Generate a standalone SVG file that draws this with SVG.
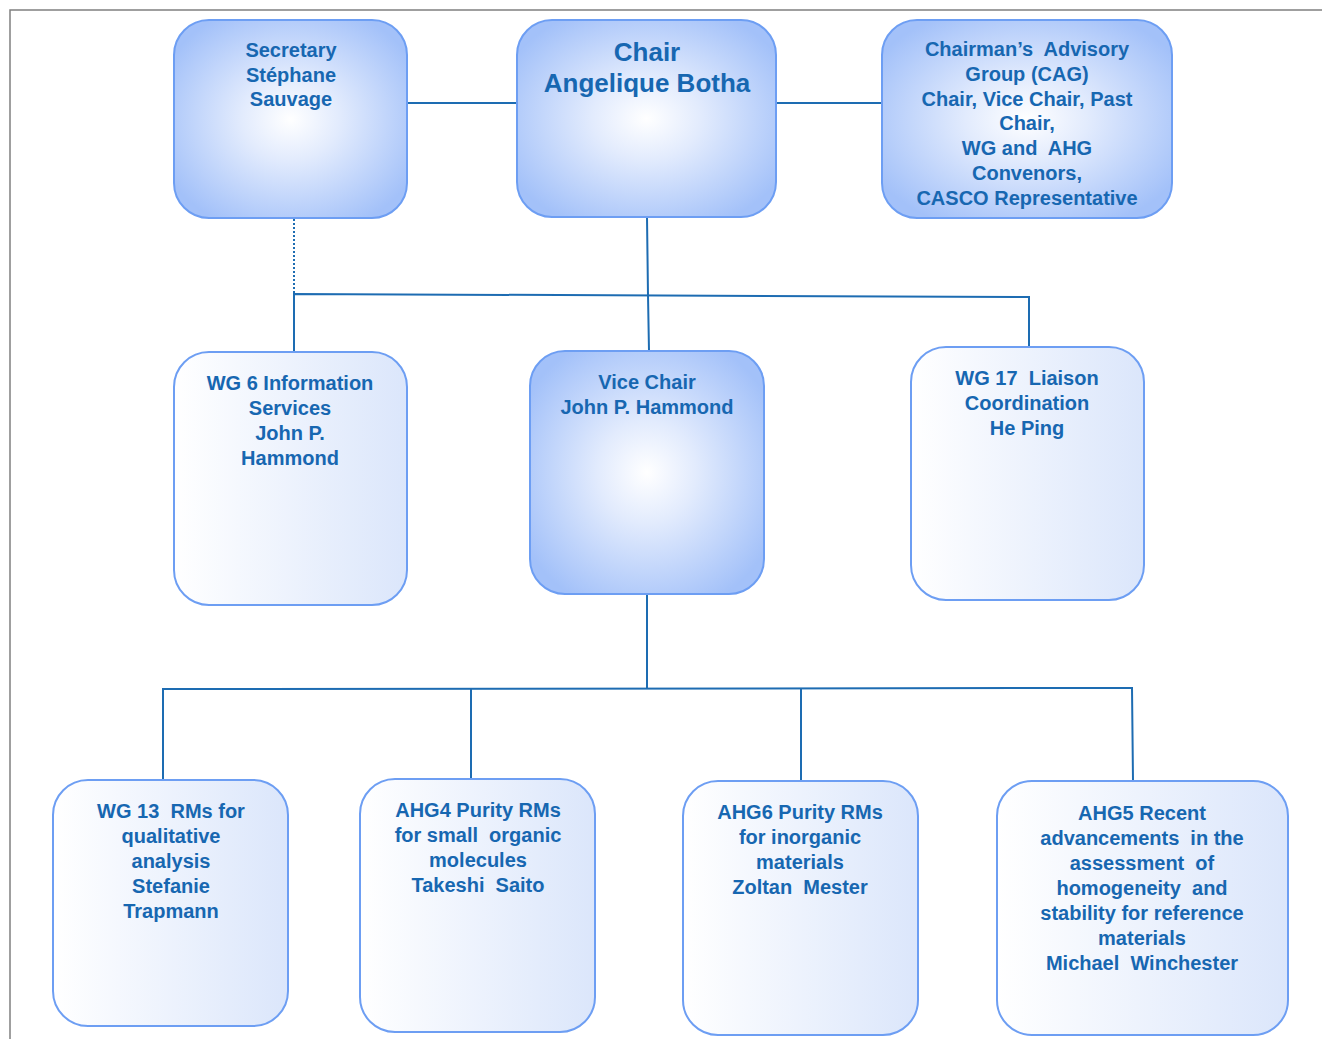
<svg xmlns="http://www.w3.org/2000/svg" width="1322" height="1039" viewBox="0 0 1322 1039">
<defs>
<radialGradient id="rg" cx="0.5" cy="0.5" r="0.6">
<stop offset="0" stop-color="#ffffff"/>
<stop offset="0.35" stop-color="#e2ebfd"/>
<stop offset="1" stop-color="#a3c1f9"/>
</radialGradient>
<linearGradient id="lg" x1="0" y1="0" x2="1" y2="0">
<stop offset="0" stop-color="#ffffff"/>
<stop offset="1" stop-color="#dbe6fb"/>
</linearGradient>
<style>
.dark{fill:url(#rg);stroke:#6d9ef3;stroke-width:2}
.light{fill:url(#lg);stroke:#6d9ef3;stroke-width:2}
text{font-family:"Liberation Sans",Arial,sans-serif;font-weight:bold;font-size:20px;fill:#1767b1;text-anchor:middle;white-space:pre}
.big{font-size:26px}
.c{stroke:#1d6cb2;stroke-width:2;fill:none}
.dot{stroke:#1d6cb2;stroke-width:2;fill:none;stroke-dasharray:2 2}
</style>
</defs>
<rect width="1322" height="1039" fill="#ffffff"/>
<path d="M10 1039 V10 H1322" fill="none" stroke="#808080" stroke-width="1.5"/>
<g id="connectors">
<line class="c" x1="407" y1="103" x2="517" y2="103"/>
<line class="c" x1="776" y1="103" x2="882" y2="103"/>
<polyline class="c" points="647,217 648,295 649,351"/>
<line class="dot" x1="294" y1="219" x2="294" y2="294"/>
<polyline class="c" points="294,352 294,294 1029,297 1029,347"/>
<line class="c" x1="647" y1="594" x2="647" y2="688"/>
<polyline class="c" points="163,780 163,689 1132,688 1133,781"/>
<line class="c" x1="471" y1="688" x2="471" y2="779"/>
<line class="c" x1="801" y1="688" x2="801" y2="781"/>
</g>
<g id="secretary">
<rect class="dark" x="174" y="20" width="233" height="198" rx="35"/>
<text x="291" y="57">Secretary</text>
<text x="291" y="82">Stéphane</text>
<text x="291" y="106">Sauvage</text>
</g>
<g id="chair">
<rect class="dark" x="517" y="20" width="259" height="197" rx="35"/>
<text class="big" x="647" y="61">Chair</text>
<text class="big" x="647" y="92">Angelique Botha</text>
</g>
<g id="cag">
<rect class="dark" x="882" y="20" width="290" height="198" rx="35"/>
<text x="1027" y="56" xml:space="preserve">Chairman’s  Advisory</text>
<text x="1027" y="81">Group (CAG)</text>
<text x="1027" y="106">Chair, Vice Chair, Past</text>
<text x="1027" y="130">Chair,</text>
<text x="1027" y="155" xml:space="preserve">WG and  AHG</text>
<text x="1027" y="180">Convenors,</text>
<text x="1027" y="205">CASCO Representative</text>
</g>
<g id="wg6">
<rect class="light" x="174" y="352" width="233" height="253" rx="35"/>
<text x="290" y="390">WG 6 Information</text>
<text x="290" y="415">Services</text>
<text x="290" y="440">John P.</text>
<text x="290" y="465">Hammond</text>
</g>
<g id="vicechair">
<rect class="dark" x="530" y="351" width="234" height="243" rx="35"/>
<text x="647" y="389">Vice Chair</text>
<text x="647" y="414">John P. Hammond</text>
</g>
<g id="wg17">
<rect class="light" x="911" y="347" width="233" height="253" rx="35"/>
<text x="1027" y="385" xml:space="preserve">WG 17  Liaison</text>
<text x="1027" y="410">Coordination</text>
<text x="1027" y="435">He Ping</text>
</g>
<g id="wg13">
<rect class="light" x="53" y="780" width="235" height="246" rx="35"/>
<text x="171" y="818" xml:space="preserve">WG 13  RMs for</text>
<text x="171" y="843">qualitative</text>
<text x="171" y="868">analysis</text>
<text x="171" y="893">Stefanie</text>
<text x="171" y="918">Trapmann</text>
</g>
<g id="ahg4">
<rect class="light" x="360" y="779" width="235" height="253" rx="35"/>
<text x="478" y="817">AHG4 Purity RMs</text>
<text x="478" y="842" xml:space="preserve">for small  organic</text>
<text x="478" y="867">molecules</text>
<text x="478" y="892" xml:space="preserve">Takeshi  Saito</text>
</g>
<g id="ahg6">
<rect class="light" x="683" y="781" width="235" height="254" rx="35"/>
<text x="800" y="819">AHG6 Purity RMs</text>
<text x="800" y="844">for inorganic</text>
<text x="800" y="869">materials</text>
<text x="800" y="894" xml:space="preserve">Zoltan  Mester</text>
</g>
<g id="ahg5">
<rect class="light" x="997" y="781" width="291" height="254" rx="35"/>
<text x="1142" y="820">AHG5 Recent</text>
<text x="1142" y="845" xml:space="preserve">advancements  in the</text>
<text x="1142" y="870" xml:space="preserve">assessment  of</text>
<text x="1142" y="895" xml:space="preserve">homogeneity  and</text>
<text x="1142" y="920">stability for reference</text>
<text x="1142" y="945">materials</text>
<text x="1142" y="970" xml:space="preserve">Michael  Winchester</text>
</g>
</svg>
